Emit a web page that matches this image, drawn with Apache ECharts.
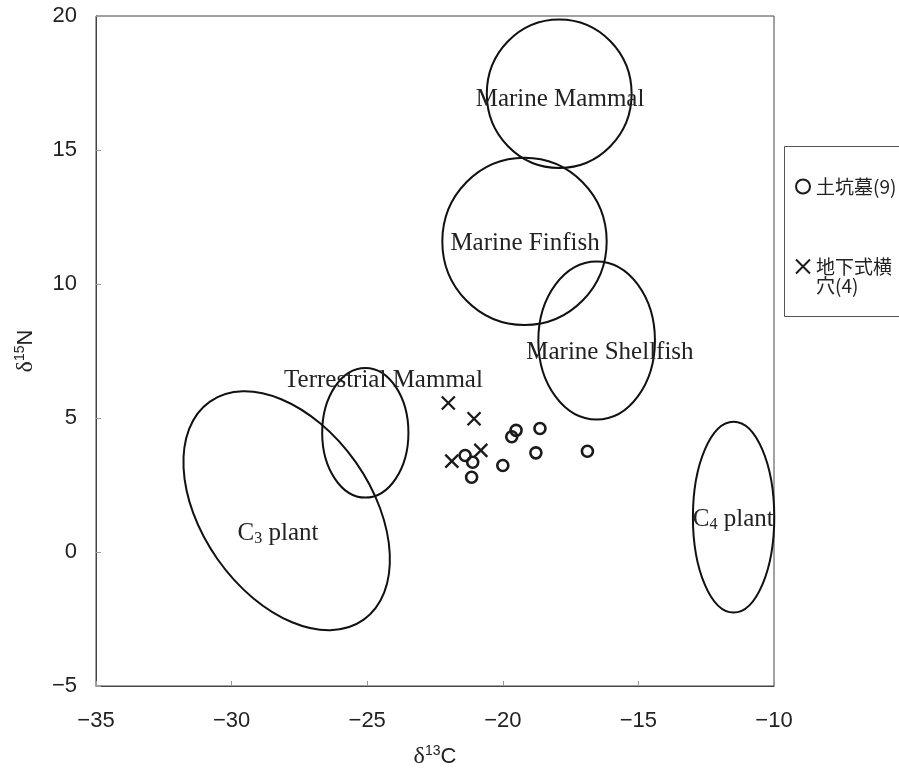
<!DOCTYPE html>
<html><head><meta charset="utf-8">
<script src="https://cdn.jsdelivr.net/npm/echarts@6/dist/echarts.min.js"></script>
<style>html,body{margin:0;padding:0;background:#fff}#c{width:899px;height:774px}</style>
</head><body><div id="c"></div>
<script>
// axis ticks
const xTicks = [-35, -30, -25, -20, -15, -10];
const yTicks = [-5, 0, 5, 10, 15, 20];

// 土坑墓 (9)
const dokoboX = [-19.51, -19.67, -18.63, -21.39, -21.11, -21.15, -20.00, -18.78, -16.88];
const dokoboY = [4.54, 4.30, 4.61, 3.60, 3.35, 2.79, 3.23, 3.70, 3.76];
// 地下式横穴 (4)
const yokoanaX = [-22.01, -21.06, -21.88, -20.81];
const yokoanaY = [5.56, 4.97, 3.39, 3.79];

// reference food-source regions
const regionNames   = ['Marine Mammal', 'Marine Finfish', 'Marine Shellfish', 'Terrestrial Mammal', 'C3 plant', 'C4 plant'];
const regionCenterX = [-17.92, -19.20, -16.54, -25.07, -27.97, -11.49];
const regionCenterY = [17.10, 11.59, 7.89, 4.45, 1.54, 1.30];
const regionRadiusX = [2.67, 3.03, 2.15, 1.59, 4.92, 1.50];
const regionRadiusY = [2.77, 3.12, 2.95, 2.42, 3.15, 3.56];
const regionTilt    = [0, 0, 0, 0, 54.9, 0];   // clockwise degrees
const labelX        = [-17.89, -19.18, -16.05, -24.40, -28.29, -11.50];
const labelY        = [16.89, 11.53, 7.43, 6.39, 0.70, 1.22];

const labelText = {
  'C3 plant': '{n|C}{s|3}{n| plant}',
  'C4 plant': '{n|C}{s|4}{n| plant}'
};

const chart = echarts.init(document.getElementById('c'));
const fmtNum = v => String(v).replace('-', '\u2212');

const regionData = regionNames.map((n, i) => ({
  name: n,
  value: [regionCenterX[i], regionCenterY[i], regionRadiusX[i], regionRadiusY[i], regionTilt[i], labelX[i], labelY[i]]
}));

const nameRich = {
  d: { fontFamily: 'Liberation Serif', fontSize: 24, lineHeight: 26, color: '#222' },
  s: { fontFamily: 'Liberation Sans', fontSize: 14, lineHeight: 13, verticalAlign: 'top', color: '#222' },
  c: { fontFamily: 'Liberation Sans', fontSize: 22, lineHeight: 26, color: '#222' }
};

chart.setOption({
  animation: false,
  backgroundColor: '#fff',
  grid: { left: 96, right: 125, top: 16, bottom: 87, show: true, borderColor: '#444', borderWidth: 1, backgroundColor: 'transparent' },
  xAxis: {
    type: 'value', min: xTicks[0], max: xTicks[xTicks.length - 1], interval: 5,
    axisLine: { show: true, onZero: false, lineStyle: { color: '#444', width: 1 } },
    axisTick: { show: true, inside: true, length: 5, lineStyle: { color: '#999' } },
    splitLine: { show: false },
    axisLabel: { margin: 24, fontSize: 22, color: '#222', fontFamily: 'Liberation Sans', formatter: fmtNum },
    name: '{d|δ}{s|13}{c|C}', nameLocation: 'middle', nameGap: 58,
    nameTextStyle: { color: '#222', rich: nameRich }
  },
  yAxis: {
    type: 'value', min: yTicks[0], max: yTicks[yTicks.length - 1], interval: 5,
    axisLine: { show: true, onZero: false, lineStyle: { color: '#444', width: 1 } },
    axisTick: { show: true, inside: true, length: 5, lineStyle: { color: '#999' } },
    splitLine: { show: false },
    axisLabel: { margin: 19, fontSize: 22, color: '#222', fontFamily: 'Liberation Sans', formatter: fmtNum },
    name: '{d|δ}{s|15}{c|N}', nameLocation: 'middle', nameGap: 57,
    nameTextStyle: { color: '#222', rich: nameRich }
  },
  legend: [
    {
      data: ['土坑墓(9)'], orient: 'vertical', left: 790, top: 172,
      itemWidth: 16, itemHeight: 14,
      textStyle: { fontFamily: 'Noto Sans CJK JP', fontSize: 19, lineHeight: 19, color: '#222' }
    },
    {
      data: ['地下式横穴(4)'], orient: 'vertical', left: 790, top: 233,
      itemWidth: 16, itemHeight: 14,
      formatter: () => '\n地下式横\n穴(4)',
      textStyle: { fontFamily: 'Noto Sans CJK JP', fontSize: 19, lineHeight: 19, color: '#222' }
    }
  ],
  graphic: [
    { type: 'rect', shape: { x: 784.5, y: 146.5, width: 130, height: 170 }, style: { fill: 'none', stroke: '#555', lineWidth: 1 }, silent: true }
  ],
  series: [
    {
      type: 'custom', name: 'regions', data: regionData, encode: { x: 0, y: 1 }, silent: true, clip: false,
      renderItem: function (params, api) {
        const c = api.coord([api.value(0), api.value(1)]);
        const rx = api.size([api.value(2), 0])[0];
        const ry = api.size([0, api.value(3)])[1];
        const l = api.coord([api.value(5), api.value(6)]);
        const nm = regionNames[params.dataIndex];
        return {
          type: 'group',
          children: [
            {
              type: 'ellipse', x: c[0], y: c[1], rotation: -api.value(4) * Math.PI / 180,
              shape: { cx: 0, cy: 0, rx: rx, ry: ry },
              style: { fill: 'none', stroke: '#111', lineWidth: 2 }
            },
            {
              type: 'text', x: l[0], y: l[1],
              style: {
                text: labelText[nm] || nm,
                fontFamily: 'Liberation Serif', fontSize: 25, fill: '#222',
                align: 'center', verticalAlign: 'middle',
                rich: {
                  n: { fontFamily: 'Liberation Serif', fontSize: 25, lineHeight: 27, fill: '#222' },
                  s: { fontFamily: 'Liberation Serif', fontSize: 16, lineHeight: 16, verticalAlign: 'bottom', fill: '#222' }
                }
              }
            }
          ]
        };
      }
    },
    {
      type: 'scatter', name: '土坑墓(9)',
      data: dokoboX.map((x, i) => [x, dokoboY[i]]),
      symbol: 'circle', symbolSize: 11,
      itemStyle: { color: 'rgba(0,0,0,0)', borderColor: '#1a1a1a', borderWidth: 2.6, opacity: 1 }
    },
    {
      type: 'scatter', name: '地下式横穴(4)',
      data: yokoanaX.map((x, i) => [x, yokoanaY[i]]),
      symbol: 'path://M0,0L10,10M10,0L0,10', symbolSize: 13,
      itemStyle: { color: 'rgba(0,0,0,0)', borderColor: '#1a1a1a', borderWidth: 2.3, opacity: 1 }
    }
  ]
});
</script></body></html>
